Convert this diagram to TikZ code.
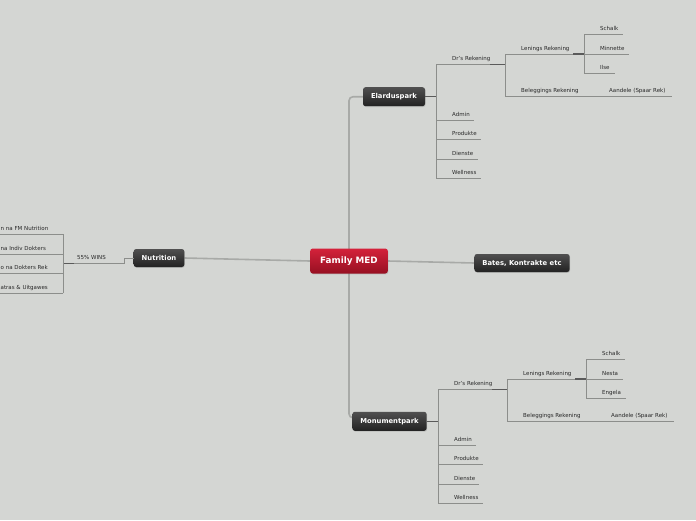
\documentclass[tikz,border=0pt]{standalone}
\usepackage{fontspec}
\setmainfont{DejaVu Sans}
\usepackage{tikz,xcolor}
\usetikzlibrary{backgrounds,shadows}

\definecolor{bgcol}{RGB}{212,214,211}
\definecolor{linkcol}{RGB}{168,170,167}
\definecolor{branchcol}{RGB}{140,142,139}
\definecolor{stubcol}{RGB}{90,90,90}
\definecolor{labelcol}{RGB}{40,40,40}
\definecolor{redtop}{RGB}{212,34,58}
\definecolor{redbot}{RGB}{150,16,34}
\definecolor{darktop}{RGB}{80,80,80}
\definecolor{darkbot}{RGB}{34,34,34}

\tikzset{
  topic/.style={rounded corners=2.5pt, top color=darktop, bottom color=darkbot,
    text=white, font=\fontsize{6.8}{8}\selectfont\bfseries, inner xsep=8pt,
    inner ysep=0pt, minimum height=19pt,
    drop shadow={opacity=0.3, shadow xshift=0.6pt, shadow yshift=-0.8pt}},
  central/.style={topic, top color=redtop, bottom color=redbot,
    font=\fontsize{8.8}{10}\selectfont\bfseries, inner xsep=10pt, minimum height=25pt},
  leaf/.style={text=labelcol, font=\fontsize{5.5}{6}\selectfont, inner sep=0pt, anchor=base west},
  link/.style={linkcol, line width=1.6pt},
  branch/.style={branchcol, line width=0.8pt},
  stub/.style={stubcol, line width=1.3pt},
}

\begin{document}
\begin{tikzpicture}[x=1pt,y=-1pt]
\useasboundingbox (0,0) rectangle (696,520);
\clip (0,0) rectangle (696,520);

  % Main topics
  \node[central] (family) at (349,261) {Family MED};
  \node[topic] (elardus) at (394,96.7) {Elarduspark};
  \node[topic] (monument) at (389.5,421.3) {Monumentpark};
  \node[topic, minimum height=18pt] (nutrition) at (159,258) {Nutrition};
  \node[topic, minimum height=18pt] (bates) at (522,263) {Bates, Kontrakte etc};

  % Background and links to the centre
  \begin{scope}[on background layer]
    \fill[bgcol] (0,0) rectangle (696,520);
    \coordinate (elin) at ([yshift=0pt]elardus.west);
    \coordinate (monin) at ([yshift=3.5pt]monument.west);
    \draw[link] (family.west) -- (nutrition.east);
    \draw[link] (family.east) -- (bates.west);
    \draw[link, rounded corners=4pt] (family.center) -- (family.center |- elin) -- (elin);
    \draw[link, rounded corners=4pt] (family.center) -- (family.center |- monin) -- (monin);
  \end{scope}

\begin{scope}
  % Define the positions of the joints
  \coordinate (eT) at (436,64.3);
  \coordinate (eB) at (436,178);
  \coordinate (eD) at (505,64.3);
  \coordinate (eDT) at (505,54);
  \coordinate (eDB) at (505,96.7);
  \coordinate (eL) at (584,54);
  \coordinate (eLT) at (584,34.3);
  \coordinate (eLB) at (584,73.3);
  \coordinate (eK) at (593,96.7);
  \coordinate (eKE) at (672,96.7);

  % Draw the trunks
  \draw[stub] (elardus.east) -- (elardus.east -| eT);
  \draw[branch] (eT) -- (eB);
  \draw[branch] (eDT) -- (eDB);
  \draw[branch] (eLT) -- (eLB);

  % First level
  \draw[branch] (eT) -- (eD);
  \draw[stub] ([xshift=-15pt]eD) -- (eD);
  \node[leaf] (eDr) at ([xshift=16pt,yshift=4pt]eT) {Dr's Rekening};
  \foreach \name/\y/\x [count=\i] in {Admin/120/474, Produkte/139/481, Dienste/159/478, Wellness/178/481} {
    \coordinate (eA\i) at (436,\y);
    \coordinate (eE\i) at (\x,\y);
    \draw[branch] (eA\i) -- (eE\i);
    \node[leaf] (eN\i) at ([xshift=16pt,yshift=4pt]eA\i) {\name};
  }

  % Second level
  \draw[branch] (eDT) -- (eL);
  \draw[stub] ([xshift=-11pt]eL) -- (eL);
  \node[leaf] (eLen) at ([xshift=16pt,yshift=4pt]eDT) {Lenings Rekening};
  \draw[branch] (eDB) -- (eK) -- (eKE);
  \node[leaf] (eBel) at ([xshift=16pt,yshift=4pt]eDB) {Beleggings Rekening};
  \node[leaf] (eAan) at ([xshift=16pt,yshift=4pt]eK) {Aandele (Spaar Rek)};

  % Third level
  \foreach \name/\y/\x [count=\i] in {Schalk/34.3/623, Minnette/54/629, Ilse/73.3/615} {
    \coordinate (eC\i) at (584,\y);
    \coordinate (eF\i) at (\x,\y);
    \draw[branch] (eC\i) -- (eF\i);
    \node[leaf] (eM\i) at ([xshift=16pt,yshift=4pt]eC\i) {\name};
  }
\end{scope}

\begin{scope}[shift={(2,325)}]
  % Define the positions of the joints
  \coordinate (mT) at (436,64.3);
  \coordinate (mB) at (436,178);
  \coordinate (mD) at (505,64.3);
  \coordinate (mDT) at (505,54);
  \coordinate (mDB) at (505,96.7);
  \coordinate (mL) at (584,54);
  \coordinate (mLT) at (584,34.3);
  \coordinate (mLB) at (584,73.3);
  \coordinate (mK) at (593,96.7);
  \coordinate (mKE) at (672,96.7);

  % Draw the trunks
  \draw[stub] (monument.east) -- (monument.east -| mT);
  \draw[branch] (mT) -- (mB);
  \draw[branch] (mDT) -- (mDB);
  \draw[branch] (mLT) -- (mLB);

  % First level
  \draw[branch] (mT) -- (mD);
  \draw[stub] ([xshift=-15pt]mD) -- (mD);
  \node[leaf] (mDr) at ([xshift=16pt,yshift=4pt]mT) {Dr's Rekening};
  \foreach \name/\y/\x [count=\i] in {Admin/120/474, Produkte/139/481, Dienste/159/477, Wellness/178/481} {
    \coordinate (mA\i) at (436,\y);
    \coordinate (mE\i) at (\x,\y);
    \draw[branch] (mA\i) -- (mE\i);
    \node[leaf] (mN\i) at ([xshift=16pt,yshift=4pt]mA\i) {\name};
  }

  % Second level
  \draw[branch] (mDT) -- (mL);
  \draw[stub] ([xshift=-11pt]mL) -- (mL);
  \node[leaf] (mLen) at ([xshift=16pt,yshift=4pt]mDT) {Lenings Rekening};
  \draw[branch] (mDB) -- (mK) -- (mKE);
  \node[leaf] (mBel) at ([xshift=16pt,yshift=4pt]mDB) {Beleggings Rekening};
  \node[leaf] (mAan) at ([xshift=16pt,yshift=4pt]mK) {Aandele (Spaar Rek)};

  % Third level
  \foreach \name/\y/\x [count=\i] in {Schalk/34.3/623, Nesta/54/621, Engela/73.3/624} {
    \coordinate (mC\i) at (584,\y);
    \coordinate (mF\i) at (\x,\y);
    \draw[branch] (mC\i) -- (mF\i);
    \node[leaf] (mM\i) at ([xshift=16pt,yshift=4pt]mC\i) {\name};
  }
\end{scope}

  % Nutrition branch
  \coordinate (nS) at (124,263.3);
  \coordinate (nJ) at (63,263.3);
  \coordinate (nT) at (63,234);
  \coordinate (nB) at (63,293);
  \draw[branch] (nutrition.west) -- (nutrition.west -| nS) -- (nS) -- (nJ);
  \draw[stub] ([xshift=11pt]nJ) -- (nJ);
  \node[leaf] (nWins) at ([xshift=14pt,yshift=4pt]nJ) {55\% WINS};
  \draw[branch] (nT) -- (nB);
  \foreach \name/\y [count=\i] in {n na FM Nutrition/234, na Indiv Dokters/254.3, o na Dokters Rek/273.3, {atras \& Uitgawes}/293} {
    \coordinate (nA\i) at (63,\y);
    \coordinate (nE\i) at (-5,\y);
    \draw[branch] (nA\i) -- (nE\i);
    \node[leaf] (nN\i) at ([yshift=4pt]0.5,\y) {\name};
  }
\end{tikzpicture}
\end{document}
